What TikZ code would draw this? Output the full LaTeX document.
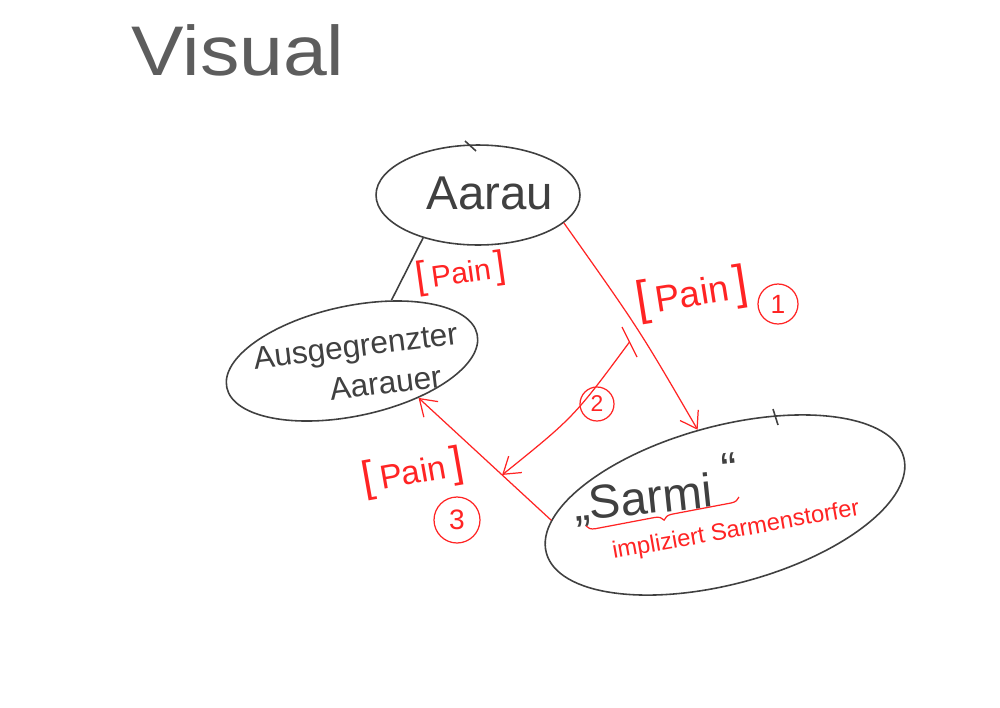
\documentclass[tikz,border=0pt]{standalone}
\usepackage{fontspec}
\setmainfont{Liberation Sans}
\usetikzlibrary{shapes.geometric,arrows.meta,decorations.pathreplacing,calc}
\definecolor{ink}{HTML}{404040}
\definecolor{pen}{HTML}{FF2424}
\newcommand\lbrk{{\fontsize{1.3em}{1.3em}\selectfont[}}
\newcommand\rbrk{{\fontsize{1.3em}{1.3em}\selectfont]}}
\begin{document}
\begin{tikzpicture}[x=0.02cm,y=-0.02cm,
  blob/.style={ellipse,draw=ink,line width=0.9pt,inner sep=0pt},
  inktext/.style={text=ink,inner sep=0pt},
  redline/.style={draw=pen,line width=0.7pt},
  redarrow/.style={redline,-{Straight Barb[length=9pt,width=12pt,line width=0.7pt]}},
  lbl/.style={text=pen,inner sep=0pt},
  num/.style={circle,draw=pen,line width=0.7pt,text=pen,inner sep=0pt},
]
\useasboundingbox[fill=white] (0,0) rectangle (1000,707);

% title
\node[inktext,text=ink!85,font=\fontsize{40}{44}\selectfont,xscale=1.12] (title) at (238,50) {Visual};

% blobs
\node[blob,minimum width=4.08cm,minimum height=2cm] (aarau) at (478,195) {};
\node[blob,minimum width=5.12cm,minimum height=2.2cm,rotate=12] (ausg) at (352,361) {};
\node[blob,minimum width=7.4cm,minimum height=3.16cm,rotate=15] (sarmi) at (725,505) {};

% small ticks on the contours
\coordinate (tka) at (465,141); \coordinate (tkb) at (476,151);
\draw[ink,line width=0.9pt] (tka) -- (tkb);
\coordinate (tkc) at (773,409); \coordinate (tkd) at (778,425);
\draw[ink,line width=0.9pt] (tkc) -- (tkd);

% texts in blobs
\node[inktext,font=\fontsize{27}{30}\selectfont] (aarautxt) at (490,193) {Aarau};
\node[inktext,font=\fontsize{18}{22}\selectfont,rotate=7,align=center] (ausgtxt) at (358,366)
  {Ausgegrenzter\\[1pt]\hspace*{1.6em}Aarauer};
\node[inktext,font=\fontsize{27}{30}\selectfont,rotate=6] (sarmitxt) at (643,500) {„Sarmi};
\node[inktext,font=\fontsize{27}{30}\selectfont,rotate=6] (sarmiq) at (730,469) {“};

% black connector
\draw[ink,line width=0.9pt] (aarau.218) -- (ausg.45);
\node[lbl,font=\fontsize{17}{19}\selectfont,rotate=8] (pain0) at (461,273) {\lbrk\,Pain\,\rbrk};

% red arrow 1
\draw[redarrow] (aarau.342) .. controls (639,329) .. (sarmi.95);
\node[lbl,font=\fontsize{21}{23}\selectfont,rotate=9] (pain1) at (692,294) {\lbrk\,Pain\,\rbrk};
\node[num,minimum size=0.8cm,font=\fontsize{15}{17}\selectfont] (n1) at (778,304) {1};

% red arrow 3
\draw[redarrow] (sarmi.170) -- (ausg.-41);
\node[lbl,font=\fontsize{19}{21}\selectfont,rotate=10] (pain3) at (413,473) {\lbrk\,Pain\,\rbrk};
\node[num,minimum size=0.92cm,font=\fontsize{16}{18}\selectfont] (n3) at (457,520) {3};

% red arrow 2 (blocked start)
\coordinate (bar1) at (622,327);
\coordinate (bar2) at (637,357);
\draw[redline] (bar1) -- (bar2);
\coordinate (a2s) at ($(bar1)!0.5!(bar2)$);
\coordinate (t2) at ($(sarmi.170)!0.37!(ausg.-41)$);
\draw[redarrow] (a2s) .. controls (574,417) .. (t2);
\node[num,minimum size=0.68cm,font=\fontsize{13}{15}\selectfont] (n2) at (597,404) {2};

% brace and annotation
\coordinate (brA) at (586,526);
\coordinate (brB) at (739,497);
\draw[redline,decorate,decoration={brace,mirror,amplitude=5pt}] (brA) -- (brB);
\node[lbl,font=\fontsize{13.5}{15}\selectfont,rotate=10] (impl) at (736,531) {impliziert Sarmenstorfer};
\end{tikzpicture}
\end{document}
